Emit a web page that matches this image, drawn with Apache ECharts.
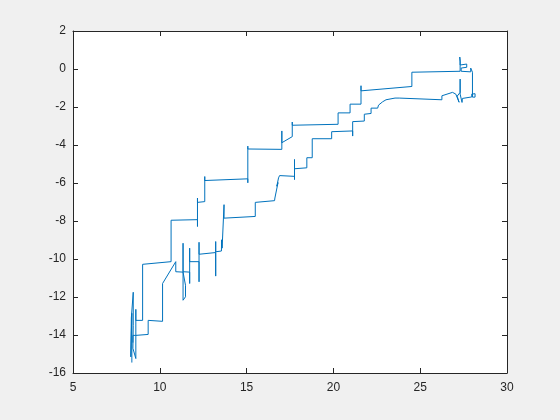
<!DOCTYPE html>
<html>
<head>
<meta charset="utf-8">
<script src="https://cdn.jsdelivr.net/npm/echarts@6/dist/echarts.min.js"></script>
<style>
html,body{margin:0;padding:0;background:#f0f0f0;}
#c{width:560px;height:420px;}
</style>
</head>
<body>
<div id="c"></div>
<script>
var xTicks = [5, 10, 15, 20, 25, 30];
var yTicks = [-16, -14, -12, -10, -8, -6, -4, -2, 0, 2];

var xs = [8.39,8.39,8.33,8.36,8.47,8.47,8.45,8.62,8.62,8.62,9.01,9.01,10.65,10.65,12.17,12.17,12.17,12.17,12.59,12.59,12.59,15.07,15.07,15.07,15.07,17.03,17.03,17.03,17.63,17.63,17.63,20.27,20.27,20.96,20.96,21.59,21.59,21.59,24.52,24.52,27.30,27.30,27.28,27.36,27.30,27.30,27.68,27.68,27.36,27.36,27.91,27.91,28.01,28.01,28.16,28.16,27.97,27.97,27.43,27.41,27.30,27.30,27.30,27.13,27.24,27.05,26.86,26.76,26.25,26.25,26.25,23.79,23.55,23.03,22.83,22.60,22.55,22.17,22.17,21.78,21.78,21.11,21.11,21.11,19.90,19.90,18.78,18.78,18.47,18.47,17.76,17.76,17.76,17.76,16.90,16.84,16.74,16.81,16.63,16.61,15.50,15.50,13.70,13.70,13.59,13.56,13.55,13.22,13.22,13.22,13.22,12.26,12.26,12.26,12.26,11.72,11.72,11.72,11.72,11.34,11.34,11.34,11.48,11.48,11.34,10.92,10.92,10.16,10.16,9.33,9.33,8.62,8.45,8.45];
var ys = [-15.45,-12.86,-15.15,-13.10,-11.75,-13.49,-14.70,-15.24,-12.65,-13.23,-13.23,-10.28,-10.14,-7.96,-7.93,-8.29,-6.79,-7.02,-6.98,-5.66,-5.87,-5.78,-5.99,-4.06,-4.21,-4.23,-3.26,-3.88,-3.56,-2.79,-2.96,-2.91,-2.31,-2.31,-1.85,-1.85,-0.88,-1.15,-0.92,-0.17,-0.12,0.42,0.63,0.63,0.37,0.21,0.26,0.09,0.05,-0.12,-0.15,0.05,-0.17,-1.48,-1.48,-1.30,-1.32,-1.47,-1.55,-1.76,-1.32,-0.53,-1.23,-1.43,-1.75,-1.32,-1.23,-1.29,-1.41,-1.62,-1.53,-1.53,-1.53,-1.62,-1.73,-1.90,-2.06,-2.06,-2.34,-2.38,-2.74,-2.77,-3.53,-3.26,-3.30,-3.67,-3.67,-4.67,-4.67,-5.20,-5.25,-4.76,-5.82,-5.65,-5.61,-5.73,-6.17,-5.98,-6.79,-6.93,-7.02,-7.76,-7.85,-7.14,-9.43,-8.99,-9.58,-9.62,-9.08,-10.90,-9.66,-9.75,-9.12,-11.20,-10.14,-10.14,-9.43,-11.29,-10.69,-10.67,-9.17,-12.17,-11.99,-11.38,-10.69,-10.67,-10.14,-11.29,-13.28,-13.23,-13.97,-14.02,-14.02,-14.40];

var pts = xs.map(function (x, i) { return [x, ys[i]]; });

var axisCol = '#262626';
var font = 'Liberation Sans, Arial, Helvetica, sans-serif';

function xAx(pos, showLabel) {
  return {
    type: 'value', position: pos,
    min: xTicks[0], max: xTicks[xTicks.length - 1], interval: 5,
    axisLine: { show: true, onZero: false, lineStyle: { color: axisCol, width: 1 } },
    axisTick: { show: true, inside: true, length: 5, lineStyle: { color: axisCol } },
    axisLabel: { show: showLabel, color: axisCol, fontSize: 12, fontFamily: font, margin: 9 },
    splitLine: { show: false }
  };
}
function yAx(pos, showLabel) {
  return {
    type: 'value', position: pos,
    min: yTicks[0], max: yTicks[yTicks.length - 1], interval: 2,
    axisLine: { show: true, onZero: false, lineStyle: { color: axisCol, width: 1 } },
    axisTick: { show: true, inside: true, length: 5, lineStyle: { color: axisCol } },
    axisLabel: { show: showLabel, color: axisCol, fontSize: 12, fontFamily: font, margin: 7 },
    splitLine: { show: false }
  };
}

var chart = echarts.init(document.getElementById('c'), null, { renderer: 'canvas' });
chart.setOption({
  backgroundColor: '#f0f0f0',
  animation: false,
  grid: {
    left: 73, right: 53, top: 31, bottom: 47,
    show: true, backgroundColor: '#ffffff', borderWidth: 0
  },
  xAxis: [xAx('bottom', true), xAx('top', false)],
  yAxis: [yAx('left', true), yAx('right', false)],
  series: [{
    type: 'line',
    data: pts,
    xAxisIndex: 0, yAxisIndex: 0,
    showSymbol: false,
    symbol: 'none',
    smooth: false,
    lineStyle: { color: '#0072BD', width: 1 },
    clip: false
  }]
});
</script>
</body>
</html>
